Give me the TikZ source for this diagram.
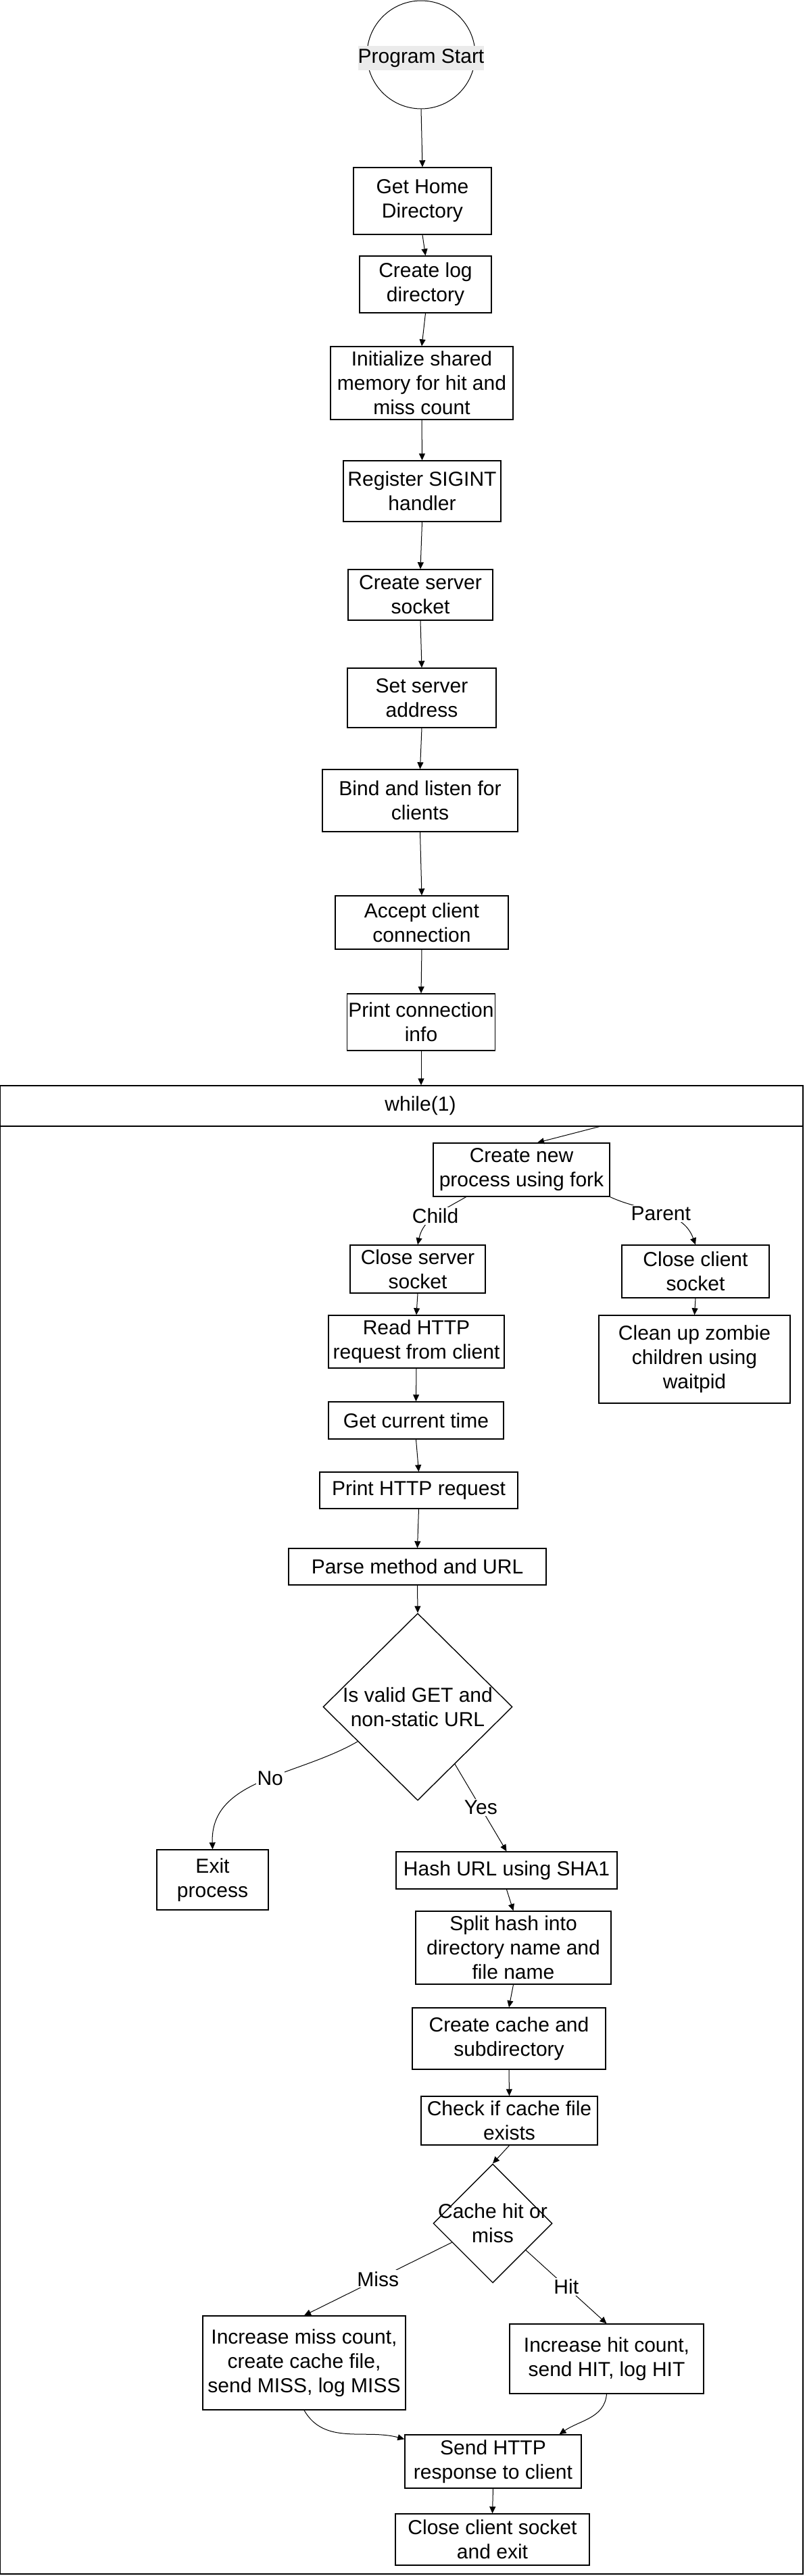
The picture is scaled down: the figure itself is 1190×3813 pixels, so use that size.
\documentclass[tikz,border=0pt]{standalone}
\usepackage{fontspec}
\setmainfont{Liberation Sans}
\usetikzlibrary{arrows.meta, shapes.geometric}
\definecolor{StartGray}{RGB}{235, 235, 235}

\begin{document}
\begin{tikzpicture}[
        x=0.5pt, y=0.5pt,
        font=\fontsize{15}{18}\selectfont,
        box/.style={rectangle, draw, line width=0.7pt, align=center, inner sep=1pt},
        decision/.style={diamond, draw, line width=0.7pt, inner sep=0pt},
        arrow/.style={-{Triangle[length=5pt, width=4.5pt]}, line width=0.5pt},
        lbl/.style={fill=white, inner sep=1pt}
    ]
        \useasboundingbox (0,0) rectangle (1190,-3813);

        % Start
        \node[circle, draw, line width=0.5pt, minimum size=80pt, inner sep=0pt,
            label={[yshift=-2.5pt, fill=StartGray, inner sep=0pt]center:\strut Program Start}] (start) at (623,-81) {};

        % Setup
        \node[box, minimum width=102pt, minimum height=49.5pt] (home) at (625,-297.5) {Get Home\\Directory};
        \node[box, minimum width=97.5pt, minimum height=42pt] (logdir) at (629.5,-421) {Create log\\directory};
        \node[box, minimum width=135pt, minimum height=54pt] (shm) at (624,-567) {Initialize shared\\memory for hit and\\miss count};
        \node[box, minimum width=116.5pt, minimum height=45pt] (sigint) at (624.5,-727) {Register SIGINT\\handler};
        \node[box, minimum width=107pt, minimum height=37.5pt] (srvsock) at (622,-880.5) {Create server\\socket};
        \node[box, minimum width=110pt, minimum height=44pt] (addr) at (624,-1033) {Set server\\address};
        \node[box, minimum width=144.5pt, minimum height=46pt] (bind) at (621.5,-1185) {Bind and listen for\\clients};
        \node[box, minimum width=128pt, minimum height=39.5pt] (accept) at (624,-1365.5) {Accept client\\connection};
        \node[box, minimum width=109pt, minimum height=42pt] (info) at (623,-1513) {Print connection\\info};

        % Loop frame
        \node[box, minimum width=594pt, minimum height=30pt, label={[xshift=14pt]center:while(1)}] (whilehead) at (594,-1637) {};
        \node[box, minimum width=594pt, minimum height=1071.5pt] (loopbody) at (594,-2738.5) {};
        \coordinate (loopin) at (889,-1667);

        % Fork
        \node[box, minimum width=130.5pt, minimum height=39.5pt] (fork) at (771.5,-1731.5) {Create new\\process using fork};
        \node[box, minimum width=100pt, minimum height=35.5pt] (closesrv) at (618,-1878.5) {Close server\\socket};
        \node[box, minimum width=109pt, minimum height=39pt] (closecli) at (1029,-1882) {Close client\\socket};
        \node[box, minimum width=141.5pt, minimum height=65pt] (zombie) at (1027.5,-2012) {Clean up zombie\\children using\\waitpid};

        % Child
        \node[box, minimum width=130pt, minimum height=39pt] (readreq) at (616,-1986) {Read HTTP\\request from client};
        \node[box, minimum width=129.5pt, minimum height=27.5pt] (curtime) at (615.5,-2102.5) {Get current time};
        \node[box, minimum width=146.5pt, minimum height=27pt] (printreq) at (619.5,-2206) {Print HTTP request};
        \node[box, minimum width=190.5pt, minimum height=27pt] (parse) at (617.5,-2319) {Parse method and URL};
        \node[decision, minimum width=140pt, minimum height=138.5pt,
            label={[align=center]center:Is valid GET and\\non-static URL}] (valid) at (618,-2526.5) {};
        \node[box, minimum width=82.5pt, minimum height=44.5pt] (exitproc) at (314.5,-2782.5) {Exit\\process};
        \node[box, minimum width=163.5pt, minimum height=27.5pt] (hash) at (749.5,-2768.5) {Hash URL using SHA1};
        \node[box, minimum width=144.5pt, minimum height=54pt] (split) at (759.5,-2883) {Split hash into\\directory name and\\file name};
        \node[box, minimum width=143pt, minimum height=45.5pt] (mkcache) at (753,-3017.5) {Create cache and\\subdirectory};
        \node[box, minimum width=130.5pt, minimum height=36pt] (checkfile) at (753.5,-3139) {Check if cache file\\exists};
        \node[decision, minimum width=88pt, minimum height=88pt,
            label={[align=center]center:Cache hit or\\miss}] (hitmiss) at (729,-3291) {};
        \node[box, minimum width=150pt, minimum height=69.5pt] (missbox) at (450,-3497.5) {Increase miss count,\\create cache file,\\send MISS, log MISS};
        \node[box, minimum width=143.5pt, minimum height=51.5pt] (hitbox) at (897.5,-3491.5) {Increase hit count,\\send HIT, log HIT};
        \node[box, minimum width=130.5pt, minimum height=39.5pt] (send) at (729.5,-3643.5) {Send HTTP\\response to client};
        \node[box, minimum width=143.5pt, minimum height=38pt] (closeexit) at (728.5,-3759) {Close client socket\\and exit};

        % Arrows
        \draw[arrow] (start.south) -- (home.north);
        \draw[arrow] (home.south) -- (logdir.north);
        \draw[arrow] (logdir.south) -- (shm.north);
        \draw[arrow] (shm.south) -- (sigint.north);
        \draw[arrow] (sigint.south) -- (srvsock.north);
        \draw[arrow] (srvsock.south) -- (addr.north);
        \draw[arrow] (addr.south) -- (bind.north);
        \draw[arrow] (bind.south) -- (accept.north);
        \draw[arrow] (accept.south) -- (info.north);
        \draw[arrow] (info.south) -- (info.south |- whilehead.north);
        \draw[arrow] (loopin) -- ([xshift=11.75pt]fork.north);
        \draw[arrow] ([xshift=-41pt]fork.south) to[out=-150, in=78] node[lbl] {Child} (closesrv.north);
        \draw[arrow] (fork.south east) to[out=-25, in=110] node[lbl] {Parent} (closecli.north);
        \draw[arrow] (closecli.south) -- (zombie.north);
        \draw[arrow] (closesrv.south) -- (readreq.north);
        \draw[arrow] (readreq.south) -- (curtime.north);
        \draw[arrow] (curtime.south) -- (printreq.north);
        \draw[arrow] (printreq.south) -- (parse.north);
        \draw[arrow] (parse.south) -- (valid.north);
        \draw[arrow] (valid.210) to[out=-150, in=92] node[lbl, pos=0.45] {No} (exitproc.north);
        \draw[arrow] (valid.-57) -- node[lbl] {Yes} (hash.north);
        \draw[arrow] (hash.south) -- (split.north);
        \draw[arrow] (split.south) -- (mkcache.north);
        \draw[arrow] (mkcache.south) -- (checkfile.north);
        \draw[arrow] (checkfile.south) -- (hitmiss.north);
        \draw[arrow] (hitmiss.205) -- node[lbl] {Miss} (missbox.north);
        \draw[arrow] (hitmiss.-39) -- node[lbl] {Hit} (hitbox.north);
        \draw[arrow] (missbox.south) to[out=-60, in=165] ([yshift=-3.5pt]send.north west);
        \draw[arrow] (hitbox.south) to[out=-95, in=35] ([xshift=49pt]send.north);
        \draw[arrow] (send.south) -- (closeexit.north);
    \end{tikzpicture}
\end{document}
